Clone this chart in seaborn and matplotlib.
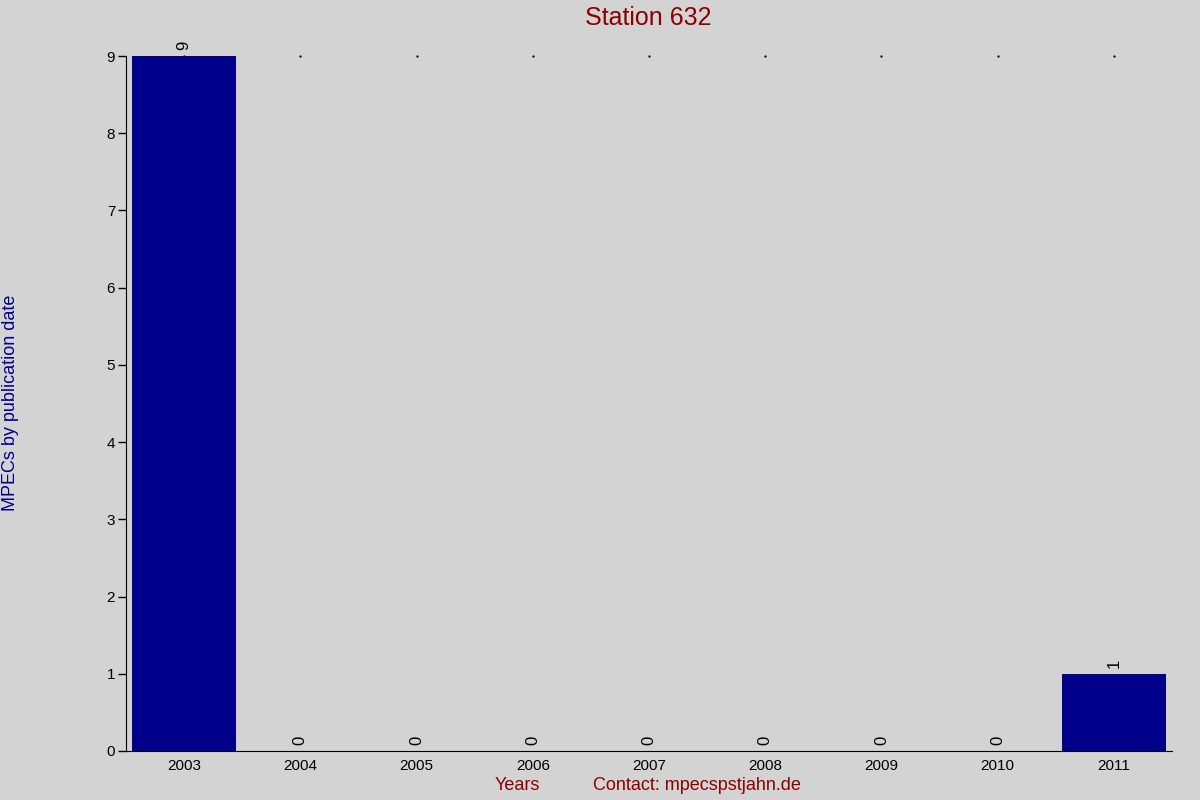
import matplotlib
matplotlib.use("Agg")
import matplotlib.pyplot as plt
import seaborn as sns
import pandas as pd

years = ["2003", "2004", "2005", "2006", "2007", "2008", "2009", "2010", "2011"]
counts = [9, 0, 0, 0, 0, 0, 0, 0, 1]

sns.set_style("white")
plt.rcParams['font.family'] = ['Liberation Sans', 'DejaVu Sans']

bg = "#d3d3d3"
fig = plt.figure(figsize=(12, 8), dpi=100, facecolor=bg)
ax = fig.add_axes([0.105, 0.06125, 0.8717, 0.86875])
ax.set_facecolor(bg)

df = pd.DataFrame({"year": years, "count": counts})
sns.barplot(data=df, x="year", y="count", color="#00008b", saturation=1,
            width=0.9, ax=ax, edgecolor="none", zorder=2)

ax.set_xlim(-0.5, len(years) - 0.5)
ax.set_ylim(0, 9)
ax.set_yticks(range(0, 10))

# small dots at top (behind bars)
ax.scatter(range(len(years)), [9] * len(years), s=0.4, color="black", zorder=1, clip_on=False)

for i, v in enumerate(counts):
    ax.annotate(str(v), (i, v), xytext=(0, 4), textcoords="offset points",
                rotation=90, ha="center", va="bottom", fontsize=12, color="black")

for s in ["top", "right"]:
    ax.spines[s].set_visible(False)
ax.spines["left"].set_color("black")
ax.spines["bottom"].set_color("black")
ax.spines["left"].set_bounds(0, 9)
ax.tick_params(axis="y", length=5.8, width=1, color="black", labelsize=11, pad=2,
               left=True, labelcolor="black")
ax.tick_params(axis="x", length=0, labelsize=11, pad=6, labelcolor="black")
ax.set_xlabel("")
ax.set_ylabel("")

fig.text(0.54, 0.978, "Station 632", ha="center", va="center", fontsize=18, color="#8b0000")
fig.text(0.431, 0.0175, "Years", ha="center", va="center", fontsize=13, color="#8b0000")
fig.text(0.581, 0.0175, "Contact: mpecspstjahn.de", ha="center", va="center", fontsize=13, color="#8b0000")
fig.text(0.009, 0.496, "MPECs by publication date", ha="center", va="center", rotation=90,
         fontsize=13, color="#00008b")

fig.savefig("out.png", dpi=100, facecolor=bg)
